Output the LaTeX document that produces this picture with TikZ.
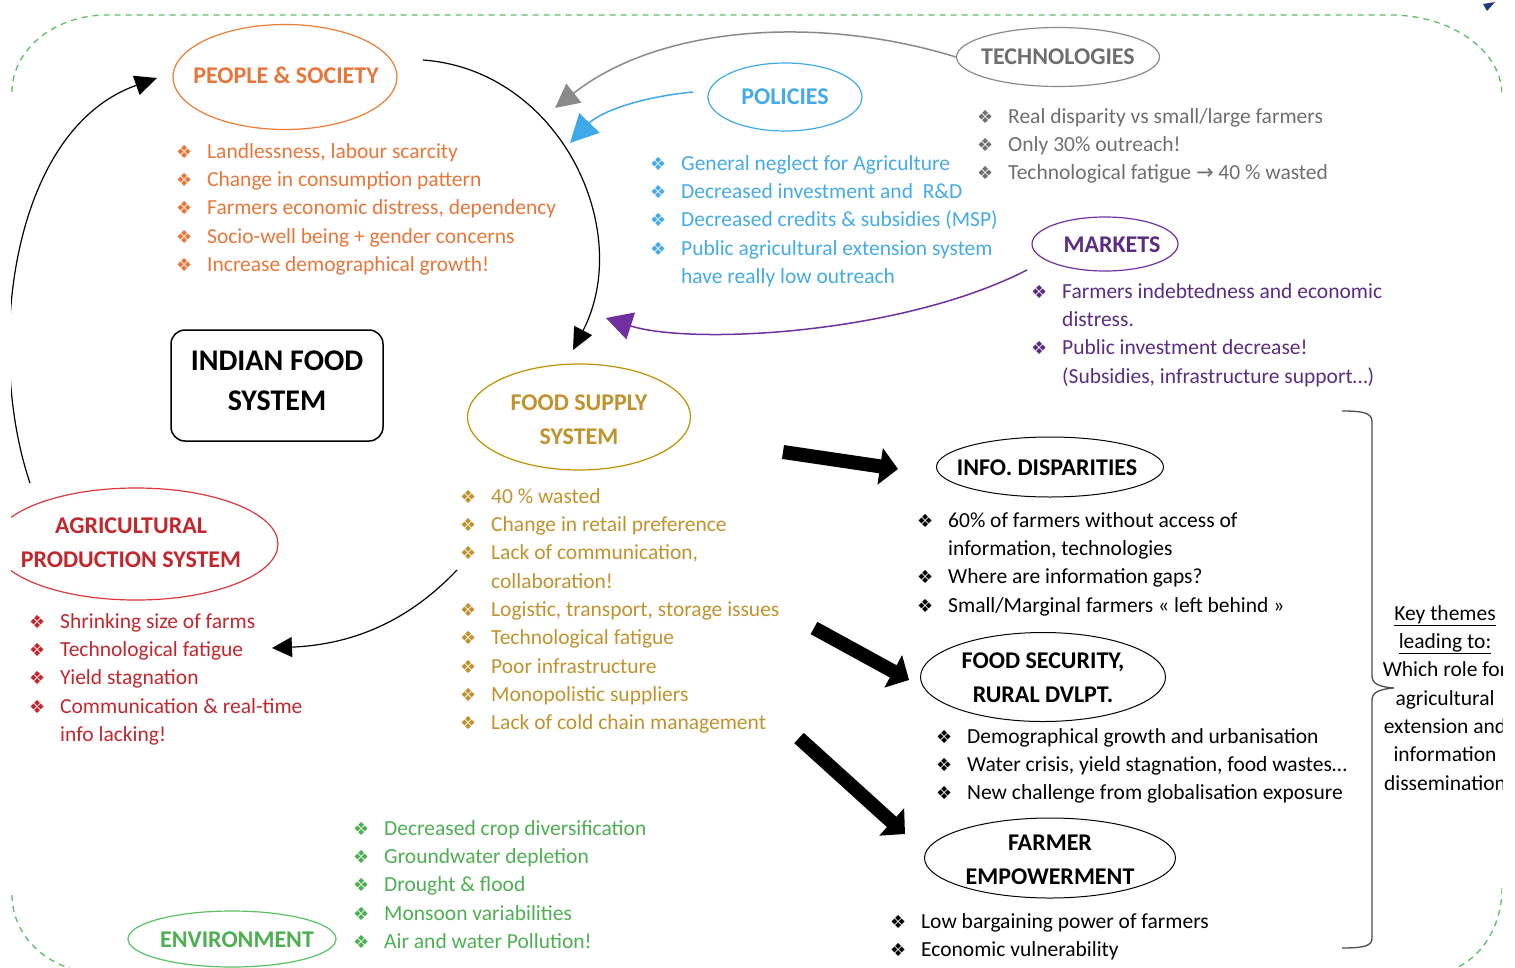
\documentclass[tikz,border=0pt]{standalone}
\usepackage{fontspec}
\setmainfont{Carlito}
\newfontfamily\symf{DejaVu Sans}
\usetikzlibrary{arrows.meta,shapes.geometric}
\definecolor{orT}{HTML}{E8763A}
\definecolor{orC}{HTML}{EB7B35}
\definecolor{blT}{HTML}{45AAE8}
\definecolor{blC}{HTML}{3EA9E8}
\definecolor{grT}{HTML}{6E6E6E}
\definecolor{grC}{HTML}{8A8A8A}
\definecolor{puT}{HTML}{5A2C82}
\definecolor{puC}{HTML}{7030A0}
\definecolor{goT}{HTML}{C0922E}
\definecolor{goC}{HTML}{BF9000}
\definecolor{reT}{HTML}{C1272D}
\definecolor{reC}{HTML}{D8393C}
\definecolor{geT}{HTML}{4DAF52}
\definecolor{geC}{HTML}{5CBF63}
\definecolor{dkB}{HTML}{203880}
\newcommand\bu{\makebox[31pt][l]{\symf\fontsize{18}{18}\selectfont ❖}}
\newcommand\ct{\hspace*{31pt}}
\newcommand\fs{\rule{0pt}{16pt}}
\tikzset{
  lst/.style={anchor=north west, inner sep=0pt, align=left, font=\fontsize{21.5}{28.3}\selectfont},
  ell/.style={ellipse, draw, line width=1.2pt, inner sep=0pt},
  ttl/.style={inner sep=0pt, align=center, font=\fontsize{24}{34}\selectfont\bfseries},
  conn/.style={line width=1.2pt},
  blk/.style={line width=14pt, -{Triangle[length=18pt,width=36pt]}},
  bord/.style={geC, line width=1.3pt, dash pattern=on 6pt off 5pt},
}
\begin{document}
\begin{tikzpicture}[x=1pt,y=-1pt]
\useasboundingbox (0,0) rectangle (1515,967);
\fill[dkB] (1483,4) -- (1495,2) -- (1487,11) -- cycle;
\begin{scope}
\clip (11,0) rectangle (1502,967);
% dashed border corners
\draw[bord]
  (12,92) arc[start angle=180, end angle=270, x radius=95, y radius=77] -- (1390,15)
  arc[start angle=270, end angle=360, x radius=112, y radius=80];
\draw[bord] (12,895) arc[start angle=180, end angle=90, x radius=88, y radius=78];
\draw[bord] (1502,888) arc[start angle=0, end angle=90, x radius=70, y radius=85];

% title nodes
\node[ell, draw=orC, minimum width=224pt, minimum height=105pt] (people) at (285,77) {};
\node[ttl, text=orT] (peoplet) at (286,75) {PEOPLE \& SOCIETY};
\node[ell, draw=grC, minimum width=203pt, minimum height=59pt] (tech) at (1058,57) {};
\node[ttl, text=grT] (techt) at (1058,57) {TECHNOLOGIES};
\node[ell, draw=blC, minimum width=154pt, minimum height=68pt] (pol) at (785,97) {};
\node[ttl, text=blT] (polt) at (785,97) {POLICIES};
\node[ell, draw=puC, minimum width=146pt, minimum height=54pt] (mkt) at (1105,244) {};
\node[ttl, text=puT] (mktt) at (1112,245) {MARKETS};
\node[draw, rounded corners=14pt, line width=1.5pt, minimum width=212pt, minimum height=111pt, inner sep=0pt] (ifs) at (277,385.5) {};
\node[inner sep=0pt, align=center, font=\fontsize{30}{40}\selectfont\bfseries] (ifst) at (277,381) {INDIAN FOOD\\SYSTEM};
\node[ell, draw=goC, minimum width=223pt, minimum height=106pt] (fss) at (579,417) {};
\node[ttl, text=goT] (fsst) at (579,420) {FOOD SUPPLY\\SYSTEM};
\node[ell, draw=reC, minimum width=284pt, minimum height=112pt] (agri) at (136,544) {};
\node[ttl, text=reT] (agrit) at (131,543) {AGRICULTURAL\\PRODUCTION SYSTEM};
\node[ell, line width=1pt, minimum width=227pt, minimum height=60pt] (info) at (1050,467) {};
\node[ttl] (infot) at (1047,468) {INFO. DISPARITIES};
\node[ell, line width=1pt, minimum width=245pt, minimum height=89pt] (fsec) at (1043,677) {};
\node[ttl] (fsect) at (1043,678) {FOOD SECURITY,\\RURAL DVLPT.};
\node[ell, line width=1pt, minimum width=251pt, minimum height=80pt] (farm) at (1050,858) {};
\node[ttl] (farmt) at (1050,860) {FARMER\\EMPOWERMENT};
\node[ell, draw=geC, minimum width=208pt, minimum height=56pt] (env) at (232,939) {};
\node[ttl, text=geT] (envt) at (237,940) {ENVIRONMENT};

% lists
\node[lst, text=orT] (lpeople) at (176,142) {\fs\bu Landlessness, labour scarcity\\\bu Change in consumption pattern\\\bu Farmers economic distress, dependency\\\bu Socio-well being + gender concerns\\\bu Increase demographical growth!};
\node[lst, text=blT] (lpol) at (650,154) {\fs\bu General neglect for Agriculture\\\bu Decreased investment and\ \ R\&D\\\bu Decreased credits \& subsidies (MSP)\\\bu Public agricultural extension system\\\ct have really low outreach};
\node[lst, text=grT] (ltech) at (977,107) {\fs\bu Real disparity vs small/large farmers\\\bu Only 30\% outreach!\\\bu Technological fatigue {\symf\fontsize{21}{21}\selectfont →} 40 \% wasted};
\node[lst, text=puT] (lmkt) at (1031,282) {\fs\bu Farmers indebtedness and economic\\\ct distress.\\\bu Public investment decrease!\\\ct (Subsidies, infrastructure support…)};
\node[lst, text=goT] (lfss) at (460,487) {\fs\bu 40 \% wasted\\\bu Change in retail preference\\\bu Lack of communication,\\\ct collaboration!\\\bu Logistic, transport, storage issues\\\bu Technological fatigue\\\bu Poor infrastructure\\\bu Monopolistic suppliers\\\bu Lack of cold chain management};
\node[lst, text=reT] (lagri) at (29,612) {\fs\bu Shrinking size of farms\\\bu Technological fatigue\\\bu Yield stagnation\\\bu Communication \& real-time\\\ct info lacking!};
\node[lst] (linfo) at (917,511) {\fs\bu 60\% of farmers without access of\\\ct information, technologies\\\bu Where are information gaps?\\\bu Small/Marginal farmers « left behind »};
\node[lst] (lfsec) at (936,727) {\fs\bu Demographical growth and urbanisation\\\bu Water crisis, yield stagnation, food wastes…\\\bu New challenge from globalisation exposure};
\node[lst] (lfarm) at (890,912) {\fs\bu Low bargaining power of farmers\\\bu Economic vulnerability};
\node[lst, text=geT] (lenv) at (353,819) {\fs\bu Decreased crop diversification\\\bu Groundwater depletion\\\bu Drought \& flood\\\bu Monsoon variabilities\\\bu Air and water Pollution!};
\node[anchor=north, inner sep=0pt, align=center, font=\fontsize{21.5}{28.3}\selectfont] (key) at (1445,604) {\fs\underline{Key themes}\\\underline{leading to:}\\Which role for\\agricultural\\extension and\\information\\dissemination};

% connectors
\coordinate (c1s) at (423,60);
\coordinate (c1e) at (573,350);
\draw[conn, -{Triangle[length=22pt,width=20pt]}] (c1s) .. controls (560,70) and (635,230) .. (c1e);
\coordinate (c2s) at (30,483);
\coordinate (c2e) at (157,78);
\draw[conn, -{Triangle[length=22pt,width=20pt]}] (c2s) .. controls (-15,350) and (10,130) .. (c2e);
\coordinate (c3s) at (457,570);
\coordinate (c3e) at (272,648);
\draw[conn, -{Triangle[length=20pt,width=20pt]}] (c3s) .. controls (400,630) and (340,645) .. (c3e);
\coordinate (c4e) at (555,108);
\draw[grC, line width=1.5pt, -{Triangle[length=24pt,width=24pt]}] (tech.west) .. controls (820,15) and (660,25) .. (c4e);
\coordinate (c5s) at (693,92);
\coordinate (c5e) at (570,143);
\draw[blC, line width=1.5pt, -{Triangle[length=28pt,width=28pt]}] (c5s) .. controls (640,97) and (600,112) .. (c5e);
\coordinate (c6s) at (1027,270);
\coordinate (c6e) at (606,318);
\draw[puC, line width=1.5pt, -{Triangle[length=26pt,width=28pt]}] (c6s) .. controls (900,335) and (690,345) .. (c6e);

% block arrows
\coordinate (b1s) at (783,452);
\coordinate (b1e) at (898,469);
\draw[blk] (b1s) -- (b1e);
\coordinate (b2s) at (814,628);
\coordinate (b2e) at (909,680);
\draw[blk] (b2s) -- (b2e);
\coordinate (b3s) at (799,738);
\coordinate (b3e) at (905,834);
\draw[blk] (b3s) -- (b3e);

% brace
\coordinate (brt) at (1342,411);
\coordinate (brm) at (1394,688);
\coordinate (brb) at (1342,948);
\draw[line width=1.3pt, black!70] (brt) .. controls (1364,411) and (1372,413) .. (1372,422) -- (1372,676) .. controls (1372,684) and (1380,687) .. (brm)
  .. controls (1380,689) and (1372,692) .. (1372,700) -- (1372,938) .. controls (1372,946) and (1364,948) .. (brb);
\end{scope}
\end{tikzpicture}
\end{document}
